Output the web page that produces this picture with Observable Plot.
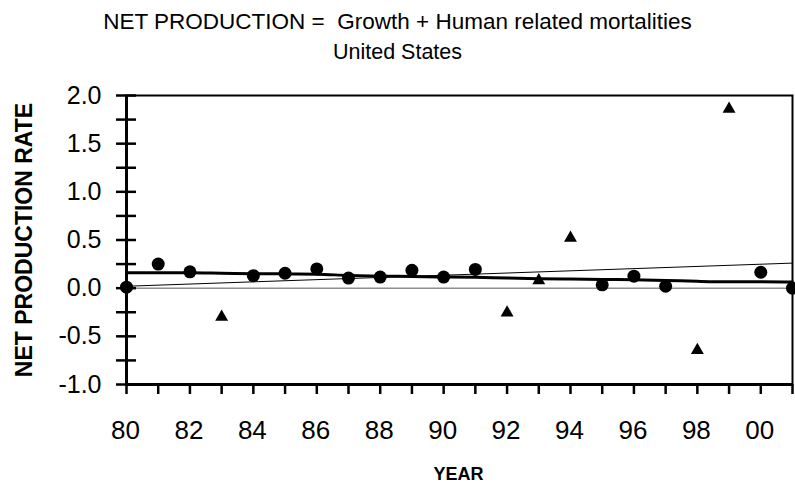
<!DOCTYPE html>
<html>
<head>
<meta charset="utf-8">
<script src="https://cdn.jsdelivr.net/npm/d3@7"></script>
<script src="https://cdn.jsdelivr.net/npm/@observablehq/plot@0.6"></script>
<style>
  body { margin: 0; background: #fff; font-family: "Liberation Sans", Arial, sans-serif; }
  #wrap { width: 795px; }
  #head { position: relative; height: 80px; }
  .t { position: absolute; left: 0; width: 795px; text-align: center; color: #000; white-space: pre; }
  svg { overflow: visible; }
</style>
</head>
<body>
<div id="wrap">
  <div id="head">
    <div class="t" id="t1" style="top: 9px; font-size: 22.5px;"></div>
    <div class="t" id="t2" style="top: 40px; font-size: 21.5px;"></div>
  </div>
  <div id="chart"></div>
</div>
<script>
const titleText = "NET PRODUCTION =  Growth + Human related mortalities";
const subtitleText = "United States";
const xLabel = "YEAR";
const yLabel = "NET PRODUCTION RATE";

// observed net production rate by year
const years = [1980, 1981, 1982, 1983, 1984, 1985, 1986, 1987, 1988, 1989, 1990,
               1991, 1992, 1993, 1994, 1995, 1996, 1997, 1998, 1999, 2000, 2001];
const values = [0.01, 0.25, 0.17, -0.30, 0.13, 0.155, 0.20, 0.105, 0.115, 0.185, 0.115,
                0.195, -0.255, 0.08, 0.52, 0.035, 0.125, 0.02, -0.645, 1.86, 0.165, 0.0];
const markers = ["circle", "circle", "circle", "triangle", "circle", "circle", "circle", "circle", "circle", "circle", "circle",
                 "circle", "triangle", "triangle", "triangle", "circle", "circle", "circle", "triangle", "triangle", "circle", "circle"];

// smoothed trend (thick line)
const smoothValues = [0.16, 0.16, 0.16, 0.155, 0.15, 0.148, 0.145, 0.132, 0.125, 0.121, 0.116,
                      0.113, 0.105, 0.098, 0.095, 0.09, 0.087, 0.08, 0.071, 0.066, 0.066, 0.063];

// linear trend (thin line)
const trendYears = [1980, 2001];
const trendValues = [0.02, 0.26];

const xDomain = [1980, 2001];
const yDomain = [-1, 2];
const yTicks = [-1, -0.5, 0, 0.5, 1, 1.5, 2];
const yMinorTicks = [-1, -0.75, -0.5, -0.25, 0, 0.25, 0.5, 0.75, 1, 1.25, 1.5, 1.75, 2];
const xTicks = years;
const xLabelTicks = [1980, 1982, 1984, 1986, 1988, 1990, 1992, 1994, 1996, 1998, 2000];

document.getElementById("t1").textContent = titleText;
document.getElementById("t2").textContent = subtitleText;

const obs = years.map((y, i) => ({year: y, value: values[i], marker: markers[i]}));
const smooth = years.map((y, i) => ({year: y, value: smoothValues[i]}));
const trend = trendYears.map((y, i) => ({year: y, value: trendValues[i]}));

const font = "Liberation Sans, Arial, sans-serif";

const chart = Plot.plot({
  width: 795,
  height: 404,
  marginTop: 15,
  marginBottom: 100,
  marginLeft: 126,
  marginRight: 3,
  style: {fontFamily: font, background: "white", color: "black", overflow: "visible"},
  x: {domain: xDomain, label: null},
  y: {domain: yDomain, label: null},
  marks: [
    Plot.ruleY([0], {stroke: "#555", strokeWidth: 1}),
    Plot.line(trend, {x: "year", y: "value", stroke: "black", strokeWidth: 1}),
    Plot.line(smooth, {x: "year", y: "value", stroke: "black", strokeWidth: 3, curve: "monotone-x"}),
    Plot.frame({stroke: "black", strokeWidth: 2}),
    Plot.ruleX([xDomain[0]], {stroke: "black", strokeWidth: 3}),
    Plot.ruleY([yDomain[0]], {stroke: "black", strokeWidth: 3}),
    // x ticks (every year)
    Plot.axisX({ticks: xTicks, tickSize: 10, strokeWidth: 2.5, fill: "none", label: null}),
    // x tick labels
    Plot.axisX({ticks: xLabelTicks, tickSize: 0, tickPadding: 36, fontSize: 26, dx: -1,
                tickFormat: d => String(d % 100).padStart(2, "0"), label: null}),
    // y ticks crossing the axis
    Plot.axisY({ticks: yMinorTicks, tickSize: 20, dx: 10, strokeWidth: 2.5, fill: "none", label: null}),
    // y tick labels
    Plot.axisY({ticks: yTicks, tickSize: 0, tickPadding: 25, fontSize: 25,
                tickFormat: d => d.toFixed(1), label: null}),
    Plot.dot(obs.filter(d => d.marker === "circle"), {x: "year", y: "value", r: 6.5, fill: "black", symbol: "circle"}),
    Plot.dot(obs.filter(d => d.marker === "triangle"), {x: "year", y: "value", r: 4.8, fill: "black", symbol: "triangle"}),
    Plot.text([yLabel], {text: d => d, frameAnchor: "left", dx: -102, rotate: -90, textAnchor: "middle",
                         fontSize: 23, fontWeight: "bold", fill: "black"}),
    Plot.text([xLabel], {text: d => d, frameAnchor: "bottom", dy: 95, dx: -1, textAnchor: "middle",
                         fontSize: 18, fontWeight: "bold", fill: "black"})
  ]
});
document.getElementById("chart").appendChild(chart);
</script>
</body>
</html>
